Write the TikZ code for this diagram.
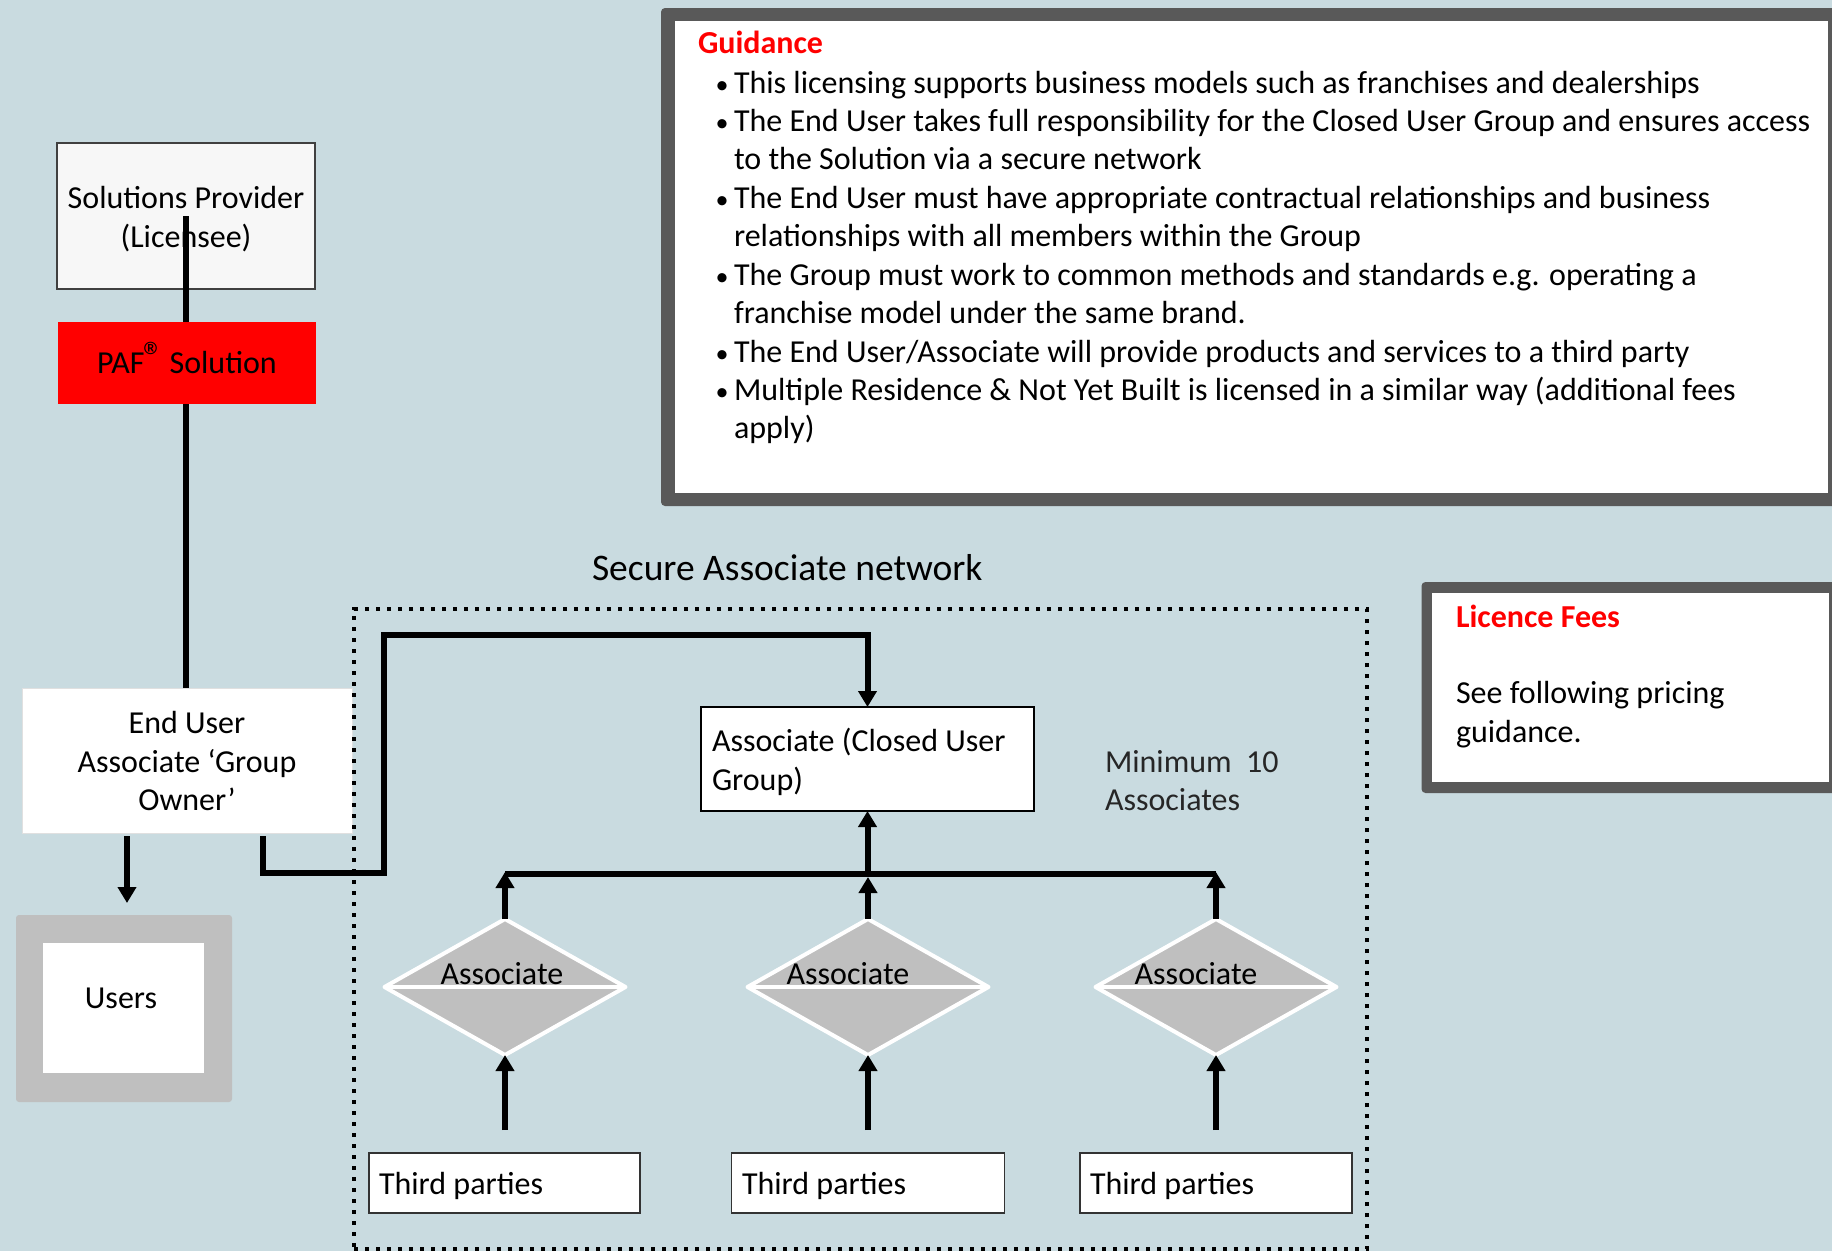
\documentclass[tikz,border=0pt]{standalone}
\usepackage{fontspec}
\setmainfont{Carlito}
\usetikzlibrary{arrows.meta,shapes.geometric}
\definecolor{bgc}{HTML}{C9DBE0}
\definecolor{framec}{HTML}{595959}
\definecolor{greyc}{HTML}{BFBFBF}
\definecolor{spc}{HTML}{F7F7F7}
\definecolor{redc}{HTML}{FF0000}
\definecolor{lightc}{HTML}{262626}
\begin{document}
\begin{tikzpicture}[x=1pt,y=-1pt,
  every node/.style={inner sep=0pt, outer sep=0pt, font=\fontsize{32}{38.4}\selectfont},
  conn/.style={line width=6pt},
  arr/.style={conn, -{Triangle[width=18pt,length=16pt]}},
  txt/.style={anchor=base west},
  ctxt/.style={anchor=base},
  bul/.style={anchor=base, font=\fontsize{26}{26}\selectfont},
  plainbox/.style={draw=black!80, line width=1.5pt, fill=white},
  assoc/.style={diamond, fill=greyc, draw=white, line width=4pt, line join=round,
                minimum width=241pt, minimum height=136pt},
  netframe/.style={draw, line width=4.3pt, dash pattern=on 4.3pt off 6.7pt},
  bold/.style={font=\fontsize{32}{38.4}\selectfont\bfseries, text=redc},
]
\useasboundingbox (0,0) rectangle (1832,1251);
\fill[bgc] (0,0) rectangle (1832,1251);

% Guidance box
\node[fill=framec, rounded corners=4pt, minimum width=1184pt, minimum height=498pt, anchor=north west] (gbox) at (661,8) {};
\node[fill=white, minimum width=1153pt, minimum height=472pt, anchor=north west] (gin) at (675,21) {};
\node[txt, bold] (gtitle) at (698,53) {Guidance};
\node[bul] (gb1) at (722,93) {•};
\node[txt] (g1) at (734,93) {This licensing supports business models such as franchises and dealerships};
\node[bul] (gb2) at (722,131) {•};
\node[txt] (g2) at (734,131) {The End User takes full responsibility for the Closed User Group and ensures access};
\node[txt] (g3) at (734,169.5) {to the Solution via a secure network};
\node[bul] (gb3) at (722,208) {•};
\node[txt] (g4) at (734,208) {The End User must have appropriate contractual relationships and business};
\node[txt] (g5) at (734,246) {relationships with all members within the Group};
\node[bul] (gb4) at (722,285) {•};
\node[txt] (g6) at (734,285) {The Group must work to common methods and standards e.g. operating a};
\node[txt] (g7) at (734,323) {franchise model under the same brand.};
\node[bul] (gb5) at (722,362) {•};
\node[txt] (g8) at (734,362) {The End User/Associate will provide products and services to a third party};
\node[bul] (gb6) at (722,400) {•};
\node[txt] (g9) at (734,400) {Multiple Residence \& Not Yet Built is licensed in a similar way (additional fees};
\node[txt] (g10) at (734,438) {apply)};

% Licence box
\node[fill=framec, rounded corners=4pt, minimum width=424pt, minimum height=211pt, anchor=north west] (lbox) at (1421.5,582) {};
\node[fill=white, minimum width=397.5pt, minimum height=189pt, anchor=north west] (lin) at (1431.5,593) {};
\node[txt, bold] (ltitle) at (1456,627) {Licence Fees};
\node[txt] (l1) at (1456,703) {See following pricing};
\node[txt] (l2) at (1456,742) {guidance.};

% Left column
\node[draw=black!75, line width=1.3pt, fill=spc, minimum width=258pt, minimum height=146pt] (sp) at (186,216) {};
\node[ctxt] (spt1) at (186,208) {Solutions Provider};
\node[ctxt] (spt2) at (186,247) {(Licensee)};

\node[draw=black!12, line width=1pt, fill=white, minimum width=330pt, minimum height=145pt] (eu) at (187,760.5) {};
\node[ctxt] (eut1) at (187,733) {End User};
\node[ctxt] (eut2) at (187,772) {Associate ‘Group};
\node[ctxt] (eut3) at (187,810) {Owner’};

\node[fill=greyc, rounded corners=3pt, minimum width=216pt, minimum height=187pt] (usr) at (124,1008.5) {};
\node[fill=white, minimum width=161pt, minimum height=130pt] (usrin) at (123.5,1008) {};
\node[ctxt] (usrt) at (121,1008) {Users};

% Secure network
\node[netframe, minimum width=1013pt, minimum height=640pt, anchor=north west] (net) at (354,609) {};
\node[txt, font=\fontsize{37.5}{45}\selectfont] (nett) at (592,580) {Secure Associate network};

\node[plainbox, draw=black, minimum width=333pt, minimum height=104pt] (cug) at (867.5,759) {};
\node[txt] (cugt1) at (712,751) {Associate (Closed User};
\node[txt] (cugt2) at (712,790) {Group)};

\node[txt, text=lightc] (min1) at (1105,772) {Minimum\ \ 10};
\node[txt, text=lightc] (min2) at (1105,810) {Associates};

\node[assoc] (d1) at (505,987) {};
\node[assoc] (d2) at (868,987) {};
\node[assoc] (d3) at (1216,987) {};
\draw[white, line width=3.3pt] (d1.west) -- (d1.east);
\draw[white, line width=3.3pt] (d2.west) -- (d2.east);
\draw[white, line width=3.3pt] (d3.west) -- (d3.east);
\node[ctxt] (d1t) at (502,984) {Associate};
\node[ctxt] (d2t) at (848,984) {Associate};
\node[ctxt] (d3t) at (1196,984) {Associate};

\node[plainbox, minimum width=271pt, minimum height=60pt] (tp1) at (504.5,1183) {};
\node[plainbox, minimum width=273pt, minimum height=60pt] (tp2) at (868,1183) {};
\node[plainbox, minimum width=272pt, minimum height=60pt] (tp3) at (1216,1183) {};
\node[txt] (tp1t) at (379,1194) {Third parties};
\node[txt] (tp2t) at (742,1194) {Third parties};
\node[txt] (tp3t) at (1090,1194) {Third parties};

% PAF on top of line
\draw[conn] (sp.center) -- (186,322);
\node[fill=redc, minimum width=258pt, minimum height=82pt] (paf) at (187,363) {};
\node[ctxt] (paft) at (187,373) {PAF\kern-1pt\raisebox{3pt}{\fontsize{41}{41}\selectfont ®}\kern-2pt{} Solution};
\draw[conn] (paf.south -| sp.center) -- (eu.north -| sp.center);

% connectors
\coordinate (euA) at ([xshift=-60pt,yshift=-3pt]eu.south);
\draw[arr, shorten >=12pt] (euA) -- (euA |- usr.north);
\coordinate (euB) at ([xshift=76pt,yshift=-3pt]eu.south);
\draw[arr] (euB) -- (263,873) -- (384,873) -- (384,635) -| (cug.north);

\coordinate (busL) at (505,874);
\coordinate (busR) at (1216,874);
\coordinate (busBot) at (868,877);
\draw[conn] (busL) -- (busR);
\draw[arr] (busL -| cug.south) -- (cug.south);
\draw[arr] (d1.north) -- ([yshift=2pt]busL);
\draw[arr] (d2.north) -- (busBot);
\draw[arr] (d3.north) -- ([yshift=2pt]busR);
\draw[arr, shorten <=23pt] (d1.south |- tp1.north) -- (d1.south);
\draw[arr, shorten <=23pt] (d2.south |- tp2.north) -- (d2.south);
\draw[arr, shorten <=23pt] (d3.south |- tp3.north) -- (d3.south);
\end{tikzpicture}
\end{document}
